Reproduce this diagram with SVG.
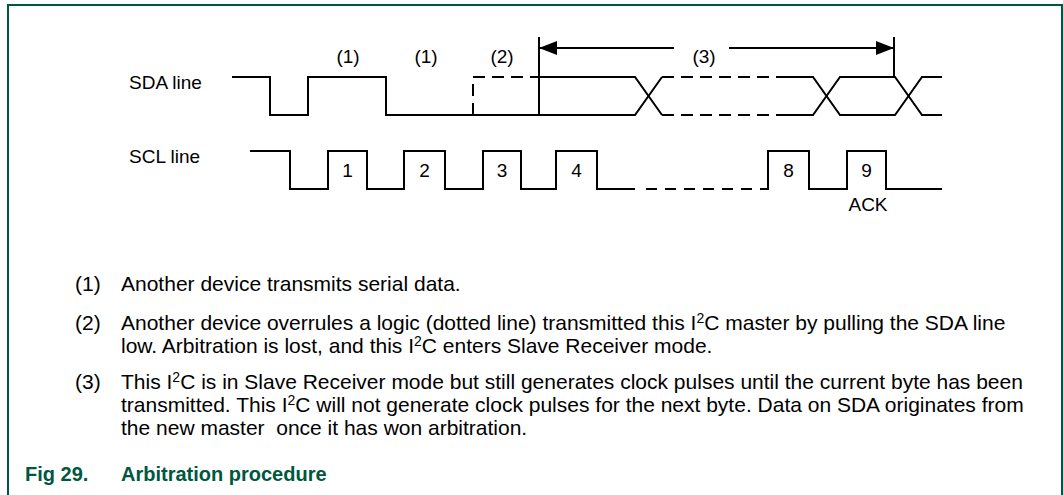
<svg xmlns="http://www.w3.org/2000/svg" width="1063" height="495" viewBox="0 0 1063 495">
  <style>
    .frame { fill: none; stroke: #00573F; stroke-width: 2; }
    .wave { fill: none; stroke: #000; stroke-width: 2; stroke-linejoin: miter; stroke-linecap: butt; }
    .dash { stroke-dasharray: 12 7; }
    .dash2 { stroke-dasharray: 11 8; }
    .lbl { font-family: "Liberation Sans", Arial, sans-serif; font-size: 19px; fill: #000; }
    .mid { text-anchor: middle; }
    .note { font-family: "Liberation Sans", Arial, sans-serif; font-size: 21px; fill: #000; }
    .sup { font-size: 14px; }
    .cap { font-family: "Liberation Sans", Arial, sans-serif; font-size: 20px; font-weight: bold; fill: #00573F; }
  </style>
  <defs>
    <marker id="ah" markerUnits="userSpaceOnUse" markerWidth="18" markerHeight="14" refX="18" refY="7" orient="auto">
      <path d="M0,0 L18,7 L0,14 Z" fill="#000"/>
    </marker>
  </defs>
  <rect width="1063" height="495" fill="#fff"/>
  <g id="frame">
    <path class="frame" d="M8,495 V5 H1062 V495"/>
  </g>
  <g id="signal-labels">
    <text class="lbl" x="129" y="89">SDA line</text>
    <text class="lbl" x="129" y="163">SCL line</text>
  </g>
  <g id="sda">
    <path class="wave" d="M232,77 H270 V115 H308 V77 H386 V115 H635 L662,77"/>
    <path class="wave" d="M539,77 H635 L662,115"/>
    <path class="wave dash" d="M473,115 V77 H539"/>
    <path class="wave dash" d="M662,77 H776"/>
    <path class="wave dash" d="M662,115 H776"/>
    <path class="wave" d="M776,77 H813 L840,115 H895 L922,77 H942"/>
    <path class="wave" d="M776,115 H813 L840,77 H895 L922,115 H942"/>
  </g>
  <g id="scl">
    <path class="wave" d="M250,151 H290 V189 H328 V151 H367 V189 H404 V151 H445 V189 H483 V151 H521 V189 H556 V151 H597 V189 H635"/>
    <path class="wave dash2" d="M646,189 H768"/>
    <path class="wave" d="M766,189 H768 V151 H809 V189 H847 V151 H886 V189 H942"/>
    <text class="lbl mid" x="347.5" y="177">1</text>
    <text class="lbl mid" x="424.5" y="177">2</text>
    <text class="lbl mid" x="502" y="177">3</text>
    <text class="lbl mid" x="576.5" y="177">4</text>
    <text class="lbl mid" x="788.5" y="177">8</text>
    <text class="lbl mid" x="866.5" y="177">9</text>
    <text class="lbl mid" x="868" y="211">ACK</text>
  </g>
  <g id="connectors">
    <path class="wave" d="M539,37 V115"/>
    <path class="wave" d="M894,37 V77"/>
    <path class="wave" d="M674,48 H539" marker-end="url(#ah)"/>
    <path class="wave" d="M729,48 H894" marker-end="url(#ah)"/>
  </g>
  <g id="markers">
    <text class="lbl mid" x="348" y="63">(1)</text>
    <text class="lbl mid" x="426" y="63">(1)</text>
    <text class="lbl mid" x="502" y="63">(2)</text>
    <text class="lbl mid" x="704" y="63">(3)</text>
  </g>
  <g id="notes">
    <text class="note" x="75" y="291">(1)</text>
    <text class="note" x="121" y="291">Another device transmits serial data.</text>
    <text class="note" x="75" y="330">(2)</text>
    <text class="note" x="121" y="330">Another device overrules a logic (dotted line) transmitted this I<tspan class="sup" dy="-7">2</tspan><tspan dy="7">C master by pulling the SDA line</tspan></text>
    <text class="note" x="121" y="353">low. Arbitration is lost, and this I<tspan class="sup" dy="-7">2</tspan><tspan dy="7">C enters Slave Receiver mode.</tspan></text>
    <text class="note" x="75" y="389">(3)</text>
    <text class="note" x="121" y="389">This I<tspan class="sup" dy="-7">2</tspan><tspan dy="7">C is in Slave Receiver mode but still generates clock pulses until the current byte has been</tspan></text>
    <text class="note" x="121" y="412">transmitted. This I<tspan class="sup" dy="-7">2</tspan><tspan dy="7">C will not generate clock pulses for the next byte. Data on SDA originates from</tspan></text>
    <text class="note" x="121" y="435" xml:space="preserve">the new master  once it has won arbitration.</text>
  </g>
  <g id="caption">
    <text class="cap" x="25" y="481">Fig 29.</text>
    <text class="cap" x="121" y="481">Arbitration procedure</text>
  </g>
</svg>
